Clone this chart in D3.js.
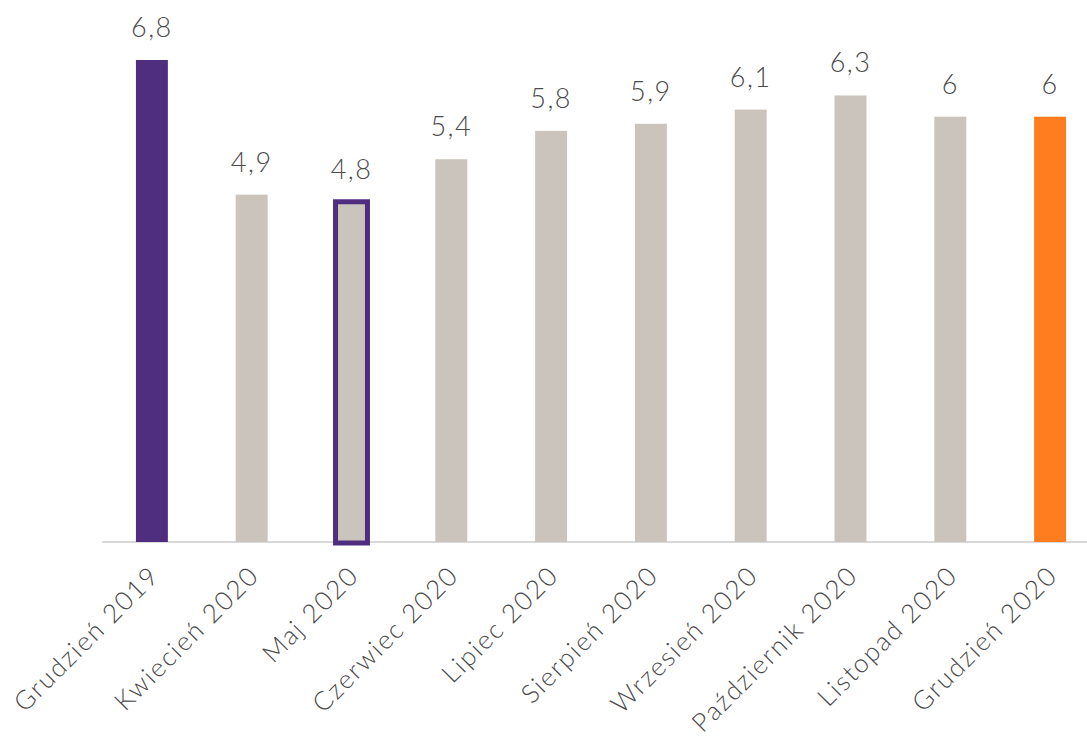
<!DOCTYPE html>
<html>
<head>
<meta charset="utf-8">
<script src="https://cdn.jsdelivr.net/npm/d3@7"></script>
<style>
  body { margin: 0; background: #fff; }
  text { font-family: Lato, "Open Sans", sans-serif; font-weight: 300; fill: #4a4a4a; }
</style>
</head>
<body>
<div id="chart"></div>
<script>
// Chart data
const categories = ['Grudzień 2019', 'Kwiecień 2020', 'Maj 2020', 'Czerwiec 2020', 'Lipiec 2020',
    'Sierpień 2020', 'Wrzesień 2020', 'Październik 2020', 'Listopad 2020', 'Grudzień 2020'];
const values = [6.8, 4.9, 4.8, 5.4, 5.8, 5.9, 6.1, 6.3, 6, 6];
const valueLabels = ['6,8', '4,9', '4,8', '5,4', '5,8', '5,9', '6,1', '6,3', '6', '6'];

const width = 1087, height = 739;
const baseY = 542;

const svg = d3.select('#chart')
    .append('svg')
    .attr('width', width)
    .attr('height', height);

// Scales
const x = d3.scaleBand()
    .domain(categories)
    .range([102, 1100])
    .paddingInner(0.68)
    .paddingOuter(0.34);

const y = d3.scaleLinear()
    .domain([0, 6.8])
    .range([baseY, 60]);

function barColor(i) {
    if (i === 0) return '#4f2d7f';
    if (i === categories.length - 1) return '#ff7d1e';
    return '#cbc4bc';
}

// Axis line
svg.append('line')
    .attr('x1', 102)
    .attr('x2', width)
    .attr('y1', baseY)
    .attr('y2', baseY)
    .style('stroke', '#d9d9d9')
    .style('stroke-width', '2px');

// Bars
svg.selectAll('rect.bar')
    .data(values)
    .enter()
    .append('rect')
    .attr('class', 'bar')
    .attr('x', (d, i) => x(categories[i]))
    .attr('y', d => y(d))
    .attr('width', x.bandwidth())
    .attr('height', d => baseY - y(d))
    .style('fill', (d, i) => barColor(i));

// Highlighted outline for Maj 2020
const hi = 2;
svg.append('rect')
    .attr('x', x(categories[hi]))
    .attr('y', y(values[hi]))
    .attr('width', x.bandwidth())
    .attr('height', baseY - y(values[hi]) + 1)
    .style('fill', 'none')
    .style('stroke', '#4f2d7f')
    .style('stroke-width', '5px');

// Value labels
svg.selectAll('text.value')
    .data(values)
    .enter()
    .append('text')
    .attr('class', 'value')
    .attr('x', (d, i) => x(categories[i]) + x.bandwidth() / 2)
    .attr('y', d => y(d) - 23)
    .attr('text-anchor', 'middle')
    .style('font-size', '27px')
    .style('letter-spacing', '1.5px')
    .text((d, i) => valueLabels[i]);

// Category labels, rotated
svg.selectAll('text.cat')
    .data(categories)
    .enter()
    .append('text')
    .attr('class', 'cat')
    .attr('text-anchor', 'end')
    .attr('transform', d => 'translate(' + (x(d) + x.bandwidth() / 2 + 9) + ',' + 577 + ') rotate(-45)')
    .style('font-size', '26px')
    .style('letter-spacing', '1.8px')
    .text(d => d);
</script>
</body>
</html>
